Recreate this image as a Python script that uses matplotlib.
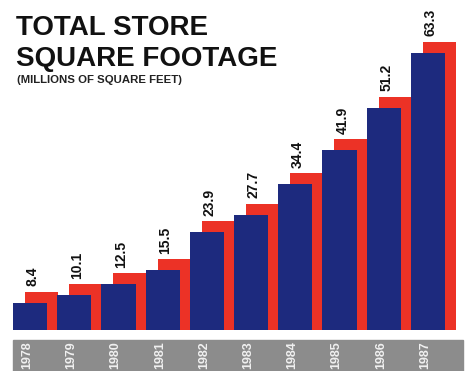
import numpy as np
import matplotlib.pyplot as plt
from matplotlib.patches import Rectangle

plt.rcParams['font.family'] = ['Liberation Sans', 'DejaVu Sans']

# store floor space per year, millions of sq ft
years = ['1978', '1979', '1980', '1981', '1982', '1983', '1984', '1985', '1986', '1987']
footage = [8.4, 10.1, 12.5, 15.5, 23.9, 27.7, 34.4, 41.9, 51.2, 63.3]

red = '#ec3226'
navy = '#1d2a7e'
depth = 2.4  # front face sits this much lower than the back face

fig = plt.figure(figsize=(4.71, 3.71), dpi=100)
ax = fig.add_axes([0, 0, 1, 1])
ax.set_xlim(-0.566, 10.09)
ax.set_ylim(-9.0, 72.5)
ax.axis('off')

x = np.arange(len(years))
vals = np.array(footage)

# back (red) and front (navy) faces
ax.bar(x, vals, width=0.74, align='edge', color=red, zorder=2)
ax.bar(x - 0.27, vals - depth, width=0.77, align='edge', color=navy, zorder=3)

# grey strip for the years
ax.add_patch(Rectangle((-0.27, -9.5), 10.18, 7.3, color='#8c8c8c', zorder=1))

for xi, v, yr in zip(x, vals, years):
    ax.text(xi + 0.18, v + 1.2, f'{v:.1f}', rotation=90, ha='center', va='bottom',
            fontsize=10, fontweight='bold', color='#111111', zorder=4)
    ax.text(xi + 0.05, -2.45, yr, rotation=90, ha='center', va='top',
            fontsize=9, fontweight='bold', color='#f0f0f0', zorder=4)

fig.text(0.034, 0.906, 'TOTAL STORE', fontsize=20, fontweight='bold',
         color='#111111', va='baseline')
fig.text(0.034, 0.821, 'SQUARE FOOTAGE', fontsize=20, fontweight='bold',
         color='#111111', va='baseline')
fig.text(0.036, 0.777, '(MILLIONS OF SQUARE FEET)', fontsize=8.2, fontweight='bold',
         color='#222222', va='baseline')

fig.savefig('out.png', dpi=100, facecolor='white')
